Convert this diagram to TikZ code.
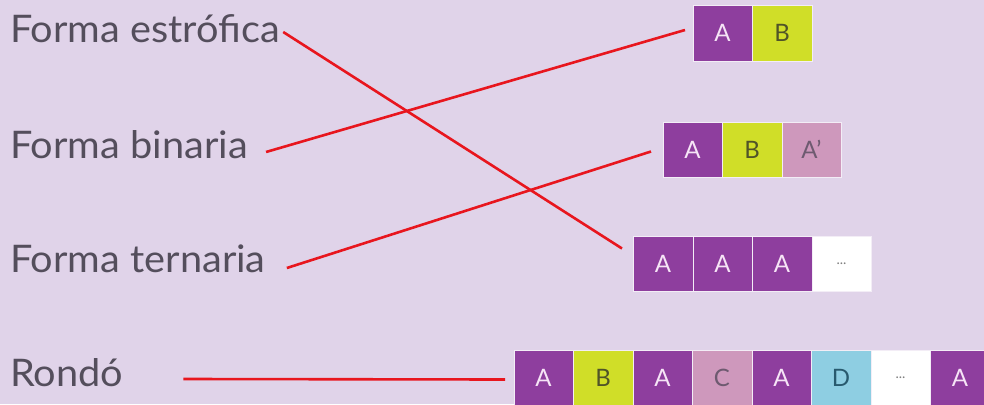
\documentclass[tikz,border=0pt]{standalone}
\usepackage{fontspec}
\setmainfont{Lato}
\newfontfamily\lblfont{Lato}[FakeStretch=1.045]
\definecolor{bg}{RGB}{224,211,233}
\definecolor{txt}{RGB}{84,78,92}
\definecolor{redl}{RGB}{232,22,30}
\definecolor{pur}{RGB}{142,62,158}
\definecolor{lime}{RGB}{208,222,40}
\definecolor{pink}{RGB}{206,152,188}
\definecolor{sky}{RGB}{142,206,226}
\definecolor{lettA}{RGB}{246,228,246}
\definecolor{lettB}{RGB}{80,84,40}
\definecolor{lettC}{RGB}{110,90,112}
\definecolor{lettD}{RGB}{40,90,110}
\tikzset{
  lbl/.style={anchor=base west, inner sep=0pt, text=txt, font=\lblfont\fontsize{38}{40}\selectfont},
  cell/.style={anchor=north west, minimum width=59.5pt, minimum height=55.5pt, inner sep=0pt,
    draw=white!60!bg, line width=0.5pt, font=\fontsize{24}{25}\selectfont},
  ca/.style={cell, fill=pur, text=lettA},
  cb/.style={cell, fill=lime, text=lettB},
  cp/.style={cell, fill=pink, text=lettC},
  cd/.style={cell, fill=sky, text=lettD},
  cw/.style={cell, fill=white, text=gray, font=\fontsize{14}{14}\selectfont},
  link/.style={draw=redl, line width=2.6pt},
}
\begin{document}
\begin{tikzpicture}[x=1pt,y=-1pt]
\useasboundingbox (0,0) rectangle (984,404);
\fill[bg] (0,0) rectangle (984,404);
\begin{scope}
\clip (0,0) rectangle (984,404);
% labels
\node[lbl] (t1) at (10,43) {Forma estrófica};
\node[lbl] (t2) at (10,158) {Forma binaria};
\node[lbl] (t3) at (10,272) {Forma ternaria};
\node[lbl] (t4) at (10,386) {Rondó};
% row 1: A B
\node[ca] (r1a) at (692.5,5) {A};
\node[cb] (r1b) at (752,5) {B};
% row 2: A B A'
\node[ca] (r2a) at (662.5,121.5) {A};
\node[cb] (r2b) at (722,121.5) {B};
\node[cp] (r2c) at (781.5,121.5) {A'};
% row 3: A A A ...
\node[ca] (r3a) at (633,235.5) {A};
\node[ca] (r3b) at (692.5,235.5) {A};
\node[ca] (r3c) at (752,235.5) {A};
\node[cw] (r3d) at (811.5,235.5) {...};
% row 4: rondo
\node[ca] (r4a) at (513.5,349.5) {A};
\node[cb] (r4b) at (573,349.5) {B};
\node[ca] (r4c) at (632.5,349.5) {A};
\node[cp] (r4d) at (692,349.5) {C};
\node[ca] (r4e) at (751.5,349.5) {A};
\node[cd] (r4f) at (811,349.5) {D};
\node[cw] (r4g) at (870.5,349.5) {...};
\node[ca] (r4h) at (930,349.5) {A};
\end{scope}
% connectors
\path[link] ([shift={(3,-11)}]t1.base east) -- ([shift={(-11,-15)}]r3a.west);
\path[link] ([shift={(18,-6)}]t2.base east) -- ([shift={(-7.5,-3)}]r1a.west);
\path[link] ([shift={(21,-4)}]t3.base east) -- ([shift={(-11.5,2)}]r2a.west);
\path[link] ([shift={(60,-7)}]t4.base east) -- ([shift={(-8.5,2)}]r4a.west);
\end{tikzpicture}
\end{document}
